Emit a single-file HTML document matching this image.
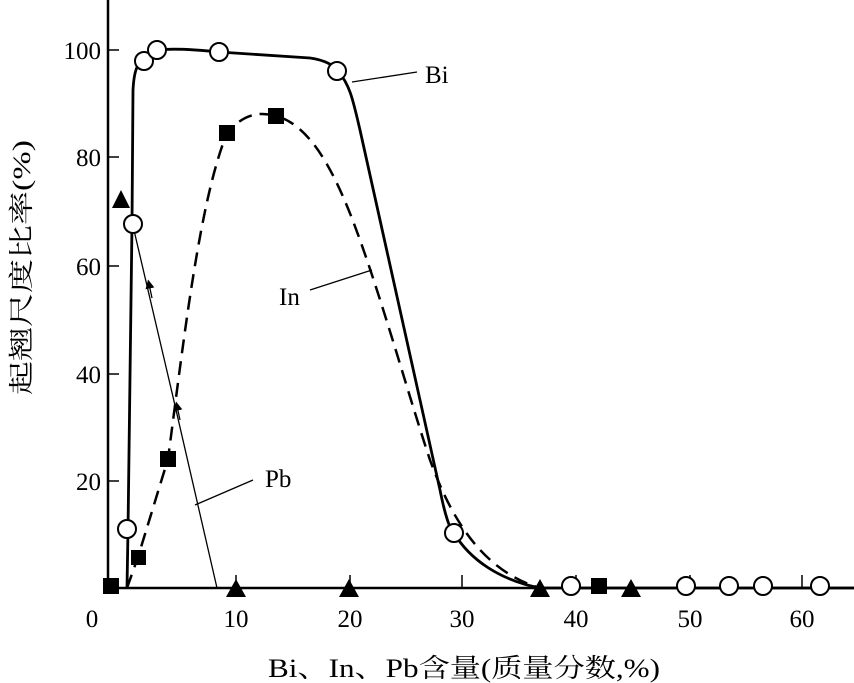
<!DOCTYPE html>
<html><head><meta charset="utf-8"><style>
html,body{margin:0;padding:0;background:#fff;}
svg{display:block;}
text{font-family:"Liberation Serif","Noto Serif CJK SC",serif;fill:#000;}
</style></head><body>
<svg width="854" height="683" viewBox="0 0 854 683" xmlns="http://www.w3.org/2000/svg">
<defs>
<marker id="ar" viewBox="0 0 10 10" refX="5" refY="5" markerWidth="7" markerHeight="9" orient="auto"><path d="M0,0 L10,5 L0,10 z" fill="#000"/></marker>
</defs>
<line x1="108" y1="0" x2="108" y2="589" stroke="#000" stroke-width="2.5"/>
<line x1="107" y1="588" x2="854" y2="588" stroke="#000" stroke-width="2.5"/>
<g stroke="#000" stroke-width="1.5">
<line x1="108" y1="50" x2="119" y2="50"/><line x1="108" y1="157" x2="119" y2="157"/>
<line x1="108" y1="266" x2="119" y2="266"/><line x1="108" y1="374" x2="119" y2="374"/>
<line x1="108" y1="481" x2="119" y2="481"/>
<line x1="236" y1="588" x2="236" y2="575"/><line x1="350" y1="588" x2="350" y2="575"/>
<line x1="462" y1="588" x2="462" y2="575"/><line x1="576" y1="588" x2="576" y2="575"/>
<line x1="690" y1="588" x2="690" y2="575"/><line x1="802" y1="588" x2="802" y2="575"/>
</g>
<g font-size="25" text-anchor="end">
<text x="101" y="59">100</text><text x="101" y="166">80</text><text x="101" y="275">60</text>
<text x="101" y="383">40</text><text x="101" y="490">20</text>
</g>
<g font-size="25" text-anchor="middle">
<text x="92" y="627">0</text><text x="236" y="627">10</text><text x="350" y="627">20</text>
<text x="462" y="627">30</text><text x="576" y="627">40</text><text x="690" y="627">50</text><text x="802" y="627">60</text>
</g>
<text x="268" y="677" font-size="26" textLength="392" lengthAdjust="spacingAndGlyphs">Bi、In、Pb含量(质量分数,%)</text>
<text transform="translate(30,395) rotate(-90)" font-size="25" textLength="255" lengthAdjust="spacingAndGlyphs">起翘尺度比率(%)</text>

<path d="M127,588 L138,557 L168,459 C185,330 200,200 227,133 C245,112 262,112 276,116 C310,125 335,170 360,240 C385,310 410,400 430,460 C450,515 480,570 540,588" fill="none" stroke="#000" stroke-width="2.5" stroke-dasharray="14,8"/>
<path d="M127,588 L128,530 L132,224 L133,90 C134,70 138,62 143,61 L157,50 C175,48 200,50 219,52 L310,58 C325,60 335,66 338,71 C350,85 353,100 360,130 L440,490 C445,515 450,530 454,533 C470,560 500,580 540,588 L854,588" fill="none" stroke="#000" stroke-width="2.8"/>
<path d="M133,226 C165,360 185,450 217,588" fill="none" stroke="#000" stroke-width="1.3"/>
<path d="M152,298 L149,284" stroke="#000" stroke-width="1.3" marker-end="url(#ar)"/>
<path d="M180,420 L177,406" stroke="#000" stroke-width="1.3" marker-end="url(#ar)"/>

<g stroke="#000" stroke-width="1.3">
<line x1="352" y1="82" x2="417" y2="72"/>
<line x1="310" y1="290" x2="372" y2="270"/>
<line x1="195" y1="505" x2="253" y2="480"/>
</g>
<text x="425" y="83" font-size="25">Bi</text>
<text x="279" y="305" font-size="25">In</text>
<text x="265" y="487" font-size="25">Pb</text>

<g fill="#fff" stroke="#000" stroke-width="2">
<circle cx="127" cy="529" r="9"/><circle cx="133" cy="224" r="9"/><circle cx="144" cy="61" r="9"/>
<circle cx="157" cy="50" r="9"/><circle cx="219" cy="52" r="9"/><circle cx="337" cy="71" r="9"/>
<circle cx="454" cy="533" r="9"/><circle cx="571" cy="586" r="9"/><circle cx="686" cy="586" r="9"/>
<circle cx="729" cy="586" r="9"/><circle cx="763" cy="586" r="9"/><circle cx="820" cy="586" r="9"/>
</g>
<g fill="#000">
<rect x="103" y="578" width="16" height="16"/><rect x="131" y="550" width="15" height="15"/>
<rect x="160" y="451" width="16" height="16"/><rect x="219" y="125" width="16" height="16"/>
<rect x="268" y="108" width="16" height="16"/><rect x="591" y="578" width="16" height="16"/>
</g>
<g fill="#000">
<path d="M121,190 L130,208 L112,208 z"/>
<path d="M236,579 L246,597 L226,597 z"/>
<path d="M349,579 L359,597 L339,597 z"/>
<path d="M540,579 L550,597 L530,597 z"/>
<path d="M631,579 L641,597 L621,597 z"/>
</g>
</svg>
</body></html>
